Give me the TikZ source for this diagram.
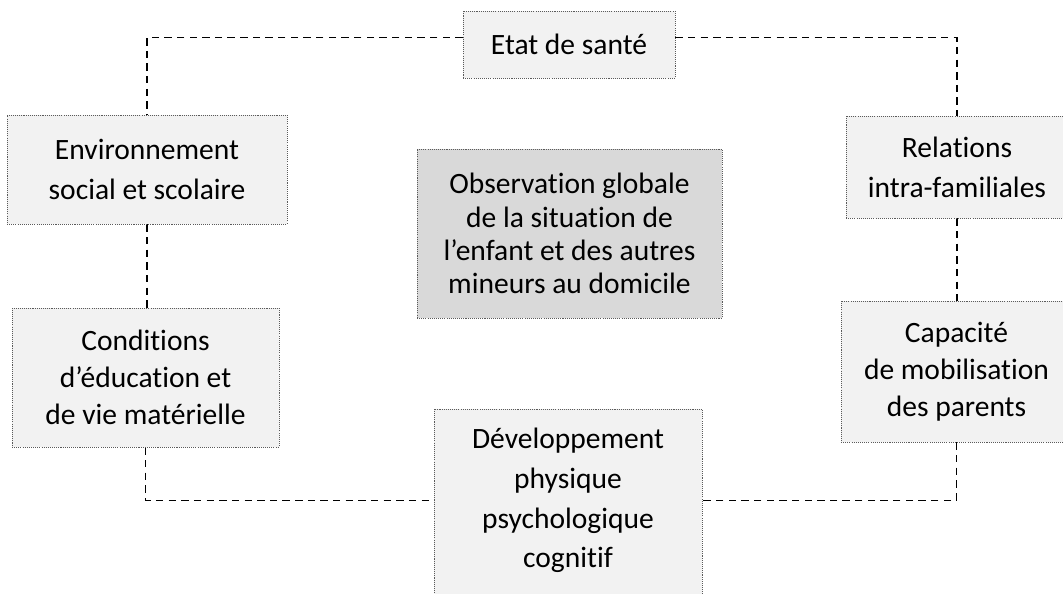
\documentclass[tikz,border=0pt]{standalone}
\usepackage{fontspec}
\setmainfont{Carlito}[Ligatures=NoCommon]
\usepackage{tikz}
\usetikzlibrary{calc, backgrounds}
\definecolor{mygray1}{RGB}{242, 242, 242}
\definecolor{mygray2}{RGB}{217, 217, 217}
\definecolor{myborder}{RGB}{90, 90, 90}
\tikzset{
  box/.style = {draw = myborder, line width = 0.5pt, dash pattern = on 0.6pt off 0.6pt,
                fill = mygray1, rectangle, align = center, inner sep = 0pt,
                font = \fontsize{16.8}{21}\selectfont},
  link/.style = {line width = 0.75pt, dash pattern = on 4.2pt off 3pt}
}
\begin{document}
\begin{tikzpicture}[x = 0.02cm, y = -0.02cm]
\useasboundingbox (0, 0) rectangle (1063, 594);
\clip (0, 0) rectangle (1063, 594);

\node[box, minimum width = 212*0.02cm, minimum height = 67*0.02cm] (etat) at (569, 44.5) {Etat de santé};
\node[box, font = \fontsize{16.8}{22.7}\selectfont, minimum width = 280*0.02cm, minimum height = 109*0.02cm] (env) at (147, 169.5)
  {Environnement\\social et scolaire};
\node[box, fill = mygray2, font = \fontsize{16.8}{18.9}\selectfont, minimum width = 305*0.02cm, minimum height = 169*0.02cm] (obs) at (569.5, 233.5)
  {Observation globale\\de la situation de\\l’enfant et des autres\\mineurs au domicile};
\node[box, font = \fontsize{16.8}{22.7}\selectfont, minimum width = 222*0.02cm, minimum height = 102*0.02cm] (rel) at (957, 167)
  {Relations\\intra-familiales};
\node[box, minimum width = 231*0.02cm, minimum height = 141*0.02cm] (cap) at (956.5, 371.5)
  {Capacité\\de mobilisation\\des parents};
\node[box, minimum width = 267*0.02cm, minimum height = 139*0.02cm] (cond) at (145.5, 377.5)
  {Conditions\\d’éducation et\\de vie matérielle};
\node[box, font = \fontsize{16.8}{22.7}\selectfont, minimum width = 268*0.02cm, minimum height = 200*0.02cm] (dev) at (568, 509)
  {Développement\\physique\\psychologique\\cognitif\\[-10pt]};

\begin{scope}[on background layer]
\draw[link] ([yshift = 4pt]etat.west) -| (env.north);
\draw[link] ([yshift = 4pt]etat.east) -| (rel.north);
\draw[link] (env.south) -- (env.south |- cond.north);
\draw[link] (rel.south) -- (rel.south |- cap.north);
\draw[link] (cond.south) |- ([yshift = 5pt]dev.west);
\draw[link] (cap.south) |- ([yshift = 5pt]dev.east);
\end{scope}
\end{tikzpicture}
\end{document}
